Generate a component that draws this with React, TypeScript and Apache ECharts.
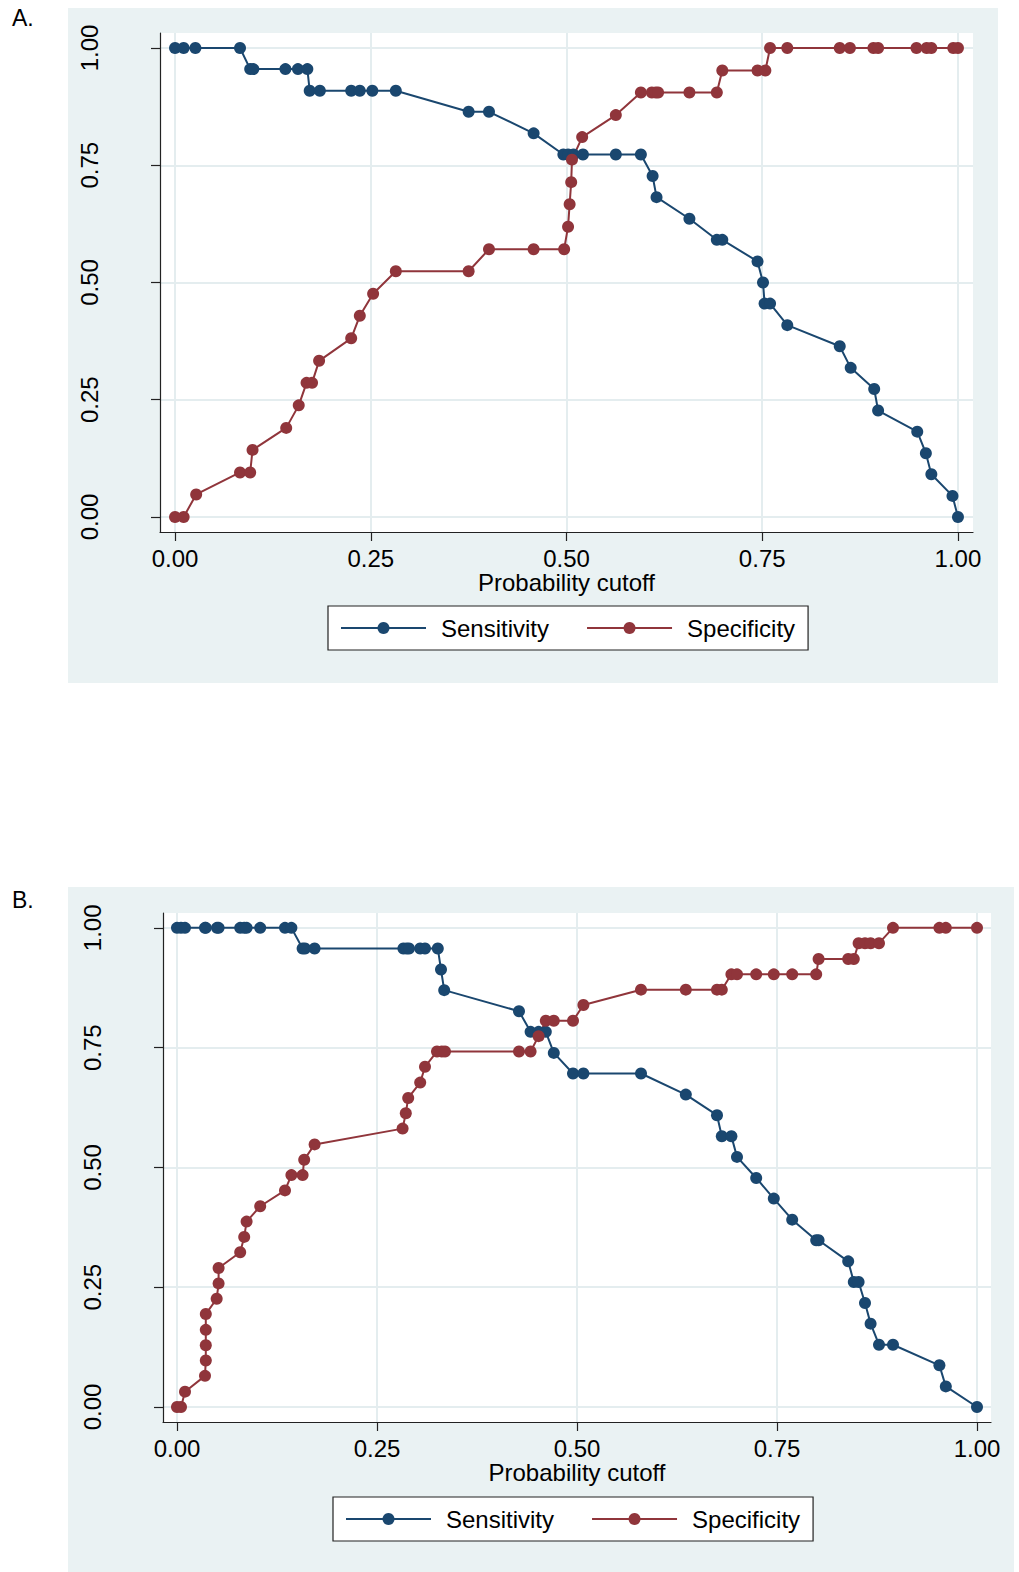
import React, { useEffect, useRef } from "react";
import * as echarts from "echarts";

// ---------- data ----------
const tickValues = [0, 0.25, 0.5, 0.75, 1];
const tickLabels = ["0.00", "0.25", "0.50", "0.75", "1.00"];
const seriesNames = ["Sensitivity", "Specificity"];
const axisTitle = "Probability cutoff";
const panelLabels = ["A.", "B."];

// Panel A
const sensAx = [0, 0.011, 0.026, 0.083, 0.096, 0.1, 0.141, 0.157, 0.169, 0.172, 0.185, 0.225, 0.236, 0.252, 0.282, 0.375, 0.401, 0.458, 0.496, 0.502, 0.509, 0.521, 0.563, 0.595, 0.61, 0.615, 0.657, 0.692, 0.699, 0.744, 0.751, 0.753, 0.76, 0.782, 0.849, 0.863, 0.893, 0.898, 0.948, 0.959, 0.966, 0.993, 1.0];
const sensAy = [1, 1, 1, 1, 0.955, 0.955, 0.955, 0.955, 0.955, 0.909, 0.909, 0.909, 0.909, 0.909, 0.909, 0.864, 0.864, 0.818, 0.773, 0.773, 0.773, 0.773, 0.773, 0.773, 0.727, 0.682, 0.636, 0.591, 0.591, 0.545, 0.5, 0.455, 0.455, 0.409, 0.364, 0.318, 0.273, 0.227, 0.182, 0.136, 0.091, 0.045, 0];
const specAx = [0, 0.011, 0.027, 0.083, 0.096, 0.099, 0.142, 0.158, 0.168, 0.175, 0.184, 0.225, 0.236, 0.253, 0.282, 0.375, 0.401, 0.458, 0.497, 0.502, 0.504, 0.506, 0.507, 0.52, 0.563, 0.595, 0.609, 0.614, 0.617, 0.657, 0.692, 0.699, 0.744, 0.754, 0.76, 0.782, 0.849, 0.862, 0.892, 0.898, 0.947, 0.96, 0.966, 0.994, 1.0];
const specAy = [0, 0, 0.048, 0.095, 0.095, 0.143, 0.19, 0.238, 0.286, 0.286, 0.333, 0.381, 0.429, 0.476, 0.524, 0.524, 0.571, 0.571, 0.571, 0.619, 0.667, 0.714, 0.762, 0.81, 0.857, 0.905, 0.905, 0.905, 0.905, 0.905, 0.905, 0.952, 0.952, 0.952, 1, 1, 1, 1, 1, 1, 1, 1, 1, 1, 1];

// Panel B
const sensBx = [0, 0.005, 0.01, 0.035, 0.036, 0.05, 0.052, 0.079, 0.084, 0.087, 0.104, 0.135, 0.143, 0.157, 0.16, 0.172, 0.283, 0.287, 0.29, 0.304, 0.31, 0.326, 0.33, 0.334, 0.4275, 0.442, 0.452, 0.461, 0.471, 0.495, 0.508, 0.58, 0.636, 0.675, 0.681, 0.693, 0.7, 0.724, 0.746, 0.769, 0.799, 0.802, 0.839, 0.846, 0.852, 0.86, 0.867, 0.8775, 0.895, 0.953, 0.961, 1.0];
const sensBy = [1, 1, 1, 1, 1, 1, 1, 1, 1, 1, 1, 1, 1, 0.957, 0.957, 0.957, 0.957, 0.957, 0.957, 0.957, 0.957, 0.957, 0.913, 0.87, 0.826, 0.783, 0.783, 0.783, 0.739, 0.696, 0.696, 0.696, 0.652, 0.609, 0.565, 0.565, 0.522, 0.478, 0.435, 0.391, 0.348, 0.348, 0.304, 0.261, 0.261, 0.217, 0.174, 0.13, 0.13, 0.087, 0.043, 0];
const specBx = [0, 0.005, 0.01, 0.035, 0.036, 0.036, 0.036, 0.036, 0.0496, 0.052, 0.052, 0.079, 0.084, 0.087, 0.104, 0.135, 0.143, 0.157, 0.159, 0.172, 0.282, 0.286, 0.289, 0.304, 0.31, 0.325, 0.331, 0.335, 0.4275, 0.442, 0.452, 0.461, 0.471, 0.495, 0.508, 0.58, 0.636, 0.675, 0.681, 0.693, 0.7, 0.724, 0.746, 0.769, 0.799, 0.802, 0.839, 0.846, 0.852, 0.86, 0.867, 0.8775, 0.895, 0.953, 0.961, 1.0];
const specBy = [0, 0, 0.032, 0.065, 0.097, 0.129, 0.161, 0.194, 0.226, 0.258, 0.29, 0.323, 0.355, 0.387, 0.419, 0.452, 0.484, 0.484, 0.516, 0.548, 0.581, 0.613, 0.645, 0.677, 0.71, 0.742, 0.742, 0.742, 0.742, 0.742, 0.774, 0.806, 0.806, 0.806, 0.839, 0.871, 0.871, 0.871, 0.871, 0.903, 0.903, 0.903, 0.903, 0.903, 0.903, 0.935, 0.935, 0.935, 0.968, 0.968, 0.968, 0.968, 1, 1, 1, 1];

// ---------- style ----------
const BLUE = "#1a476f";
const RED = "#90353b";
const BG = "#eaf2f3";
const GRIDLINE = "#e4edef";
const FONT = "'Liberation Sans', Arial, sans-serif";
const FS = 24;

const zip = (xs: number[], ys: number[]) => xs.map((x, i) => [x, ys[i]]);
const fmt = (v: number) => {
  const i = tickValues.findIndex((t) => Math.abs(t - v) < 1e-9);
  return i >= 0 ? tickLabels[i] : "";
};

function makeXAxis(gridIndex: number, min: number, max: number) {
  return {
    type: "value",
    gridIndex,
    min,
    max,
    name: axisTitle,
    nameLocation: "middle",
    nameGap: 37,
    nameTextStyle: { fontSize: FS, color: "#000", fontFamily: FONT },
    axisLine: { show: true, onZero: false, lineStyle: { color: "#222", width: 1.2 } },
    axisTick: { show: true, length: 9, customValues: tickValues, lineStyle: { color: "#222", width: 1.2 } },
    axisLabel: { customValues: tickValues, formatter: fmt, fontSize: FS, color: "#000", fontFamily: FONT, margin: 14 },
    splitLine: { show: true, lineStyle: { color: GRIDLINE, width: 2 } },
  };
}
function makeYAxis(gridIndex: number, min: number, max: number) {
  return {
    type: "value",
    gridIndex,
    min,
    max,
    axisLine: { show: true, onZero: false, lineStyle: { color: "#222", width: 1.2 } },
    axisTick: { show: true, length: 9, customValues: tickValues, lineStyle: { color: "#222", width: 1.2 } },
    axisLabel: { customValues: tickValues, formatter: fmt, rotate: 90, fontSize: FS, color: "#000", fontFamily: FONT, margin: 59 },
    splitLine: { show: true, lineStyle: { color: GRIDLINE, width: 2 } },
  };
}
function makeSeries(name: string, color: string, idx: number, data: number[][]) {
  return {
    type: "line",
    name,
    xAxisIndex: idx,
    yAxisIndex: idx,
    data,
    symbol: "circle",
    symbolSize: 12,
    showSymbol: true,
    color,
    lineStyle: { color, width: 2 },
    itemStyle: { color },
    silent: true,
  };
}
function makeLegend(left: number, top: number) {
  return {
    data: seriesNames,
    left,
    top,
    orient: "horizontal",
    itemWidth: 85,
    itemHeight: 15,
    itemGap: 37,
    padding: [10, 13, 10, 12],
    borderColor: "#222",
    borderWidth: 1.2,
    backgroundColor: "#fff",
    textStyle: { fontSize: FS, color: "#000", fontFamily: FONT, padding: [0, 0, 0, 10] },
    selectedMode: false,
  };
}

export default function App() {
  const ref = useRef<HTMLDivElement>(null);
  useEffect(() => {
    if (!ref.current) return;
    const chart = echarts.init(ref.current, null, { renderer: "svg" });
    chart.setOption({
      animation: false,
      backgroundColor: "#fff",
      graphic: [
        { type: "rect", z: -10, shape: { x: 68, y: 8, width: 930, height: 675 }, style: { fill: BG } },
        { type: "rect", z: -10, shape: { x: 68, y: 887, width: 946, height: 685 }, style: { fill: BG } },
        { type: "rect", z: -9, shape: { x: 160, y: 33, width: 813, height: 499 }, style: { fill: "#fff" } },
        { type: "rect", z: -9, shape: { x: 163, y: 913, width: 828, height: 509 }, style: { fill: "#fff" } },
        { type: "text", left: 12, top: 6, style: { text: panelLabels[0], fontSize: 23, fill: "#000", fontFamily: FONT } },
        { type: "text", left: 12, top: 888, style: { text: panelLabels[1], fontSize: 23, fill: "#000", fontFamily: FONT } },
      ],
      grid: [
        { left: 160, top: 33, width: 813, height: 499, show: false },
        { left: 163, top: 913, width: 828, height: 509, show: false },
      ],
      xAxis: [makeXAxis(0, -0.0192, 1.0192), makeXAxis(1, -0.0175, 1.0175)],
      yAxis: [makeYAxis(0, -0.032, 1.032), makeYAxis(1, -0.0313, 1.031)],
      legend: [makeLegend(328, 606), makeLegend(333, 1497)],
      series: [
        makeSeries(seriesNames[0], BLUE, 0, zip(sensAx, sensAy)),
        makeSeries(seriesNames[1], RED, 0, zip(specAx, specAy)),
        makeSeries(seriesNames[0], BLUE, 1, zip(sensBx, sensBy)),
        makeSeries(seriesNames[1], RED, 1, zip(specBx, specBy)),
      ],
    });
    return () => chart.dispose();
  }, []);
  return <div ref={ref} style={{ position: "absolute", left: 0, top: 0, width: 1019, height: 1572 }} />;
}
